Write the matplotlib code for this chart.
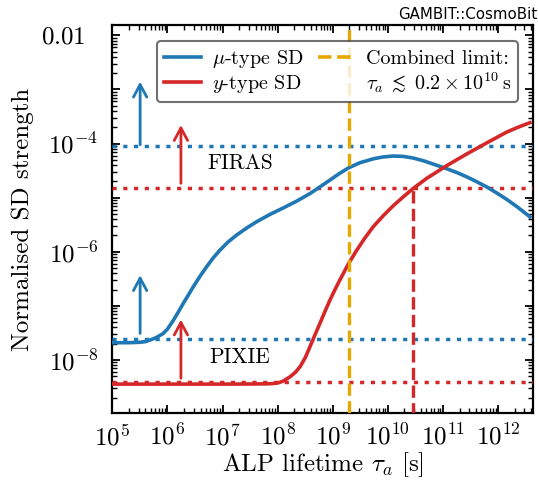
import numpy as np
import matplotlib
matplotlib.use("Agg")
import matplotlib.pyplot as plt
from matplotlib.ticker import FixedLocator, LogLocator, NullFormatter, FuncFormatter
from matplotlib.lines import Line2D
import matplotlib.transforms as mtransforms

plt.rcParams.update({
    "font.family": "serif",
    "font.serif": ["cmr10"],
    "mathtext.fontset": "cm",
    "axes.unicode_minus": False,
    "axes.formatter.use_mathtext": True,
})

# ---- data (log10 values) ----
mu_log_tau = [5.0, 5.3, 5.5, 5.6, 5.684, 5.8, 5.925, 6.0, 6.106, 6.2, 6.288, 6.38,
              6.469, 6.6, 6.712, 6.83, 6.954, 7.1, 7.256, 7.44, 7.619, 7.86, 8.102,
              8.35, 8.586, 8.77, 8.949, 9.12, 9.281, 9.493, 9.734, 9.9, 10.097,
              10.28, 10.46, 10.65, 10.823, 11.066, 11.25, 11.428, 11.6, 11.791,
              11.97, 12.154, 12.36, 12.577]
mu_log_sd = [-7.68, -7.68, -7.672, -7.66, -7.632, -7.585, -7.508, -7.43, -7.27,
             -7.11, -6.954, -6.80, -6.647, -6.44, -6.277, -6.115, -5.969, -5.82,
             -5.691, -5.56, -5.445, -5.31, -5.19, -5.062, -4.925, -4.80, -4.675,
             -4.555, -4.453, -4.355, -4.283, -4.25, -4.231, -4.238, -4.268, -4.32,
             -4.38, -4.465, -4.535, -4.614, -4.70, -4.80, -4.91, -5.03, -5.18, -5.355]

y_log_tau = [5.0, 6.0, 7.0, 7.5, 7.8, 7.9, 8.0, 8.1, 8.223, 8.32, 8.405, 8.5, 8.586,
             8.68, 8.767, 8.86, 8.949, 9.04, 9.13, 9.281, 9.433, 9.58, 9.734, 9.92,
             10.097, 10.28, 10.46, 10.703, 11.066, 11.428, 11.791, 12.154, 12.36,
             12.577]
y_log_sd = [-8.445, -8.445, -8.445, -8.443, -8.44, -8.436, -8.425, -8.39, -8.311,
            -8.23, -8.126, -7.96, -7.756, -7.53, -7.324, -7.10, -6.893, -6.70, -6.52,
            -6.23, -5.975, -5.75, -5.538, -5.33, -5.15, -4.985, -4.83, -4.645, -4.41,
            -4.195, -3.99, -3.79, -3.70, -3.615]

firas_limits = {"mu": 9e-5, "y": 1.5e-5}
pixie_limits = {"mu": 2.4e-8, "y": 3.9e-9}

combined_limit_tau = 2e9        # 0.2 x 10^10 s
y_firas_cross_tau = 2.9e10

# arrows: (y_start, y_end) at fixed tau
arrow_mu_x = 3.2e5
arrow_y_x = 1.76e6
firas_arrows = {"mu": (9.5e-5, 1.39e-3), "y": (1.84e-5, 2.2e-4)}
pixie_arrows = {"mu": (3.1e-8, 3.7e-7), "y": (4.6e-9, 5.6e-8)}

xtick_exps = [5, 6, 7, 8, 9, 10, 11, 12]
ytick_exps = [-9, -8, -7, -6, -5, -4, -3, -2]
ylabel_exps = [-8, -6, -4]

BLUE = "#1f77b4"
RED = "#d62728"
ORANGE = "#e6a700"

fig = plt.figure(figsize=(5.38, 4.84), dpi=100)
ax = fig.add_axes([0.2087, 0.1467, 0.7820, 0.8017])

ax.set_xscale("log")
ax.set_yscale("log")
ax.set_xlim(1e5, 4.3e12)
ax.set_ylim(1.05e-9, 1.55e-2)

mu_tau = 10 ** np.array(mu_log_tau)
mu_sd = 10 ** np.array(mu_log_sd)
yt_tau = 10 ** np.array(y_log_tau)
yt_sd = 10 ** np.array(y_log_sd)

ax.plot(mu_tau, mu_sd, color=BLUE, lw=2.6, solid_joinstyle="round", zorder=4)
ax.plot(yt_tau, yt_sd, color=RED, lw=2.6, solid_joinstyle="round", zorder=4)

dots = (0, (1.2, 1.9))
for lim, c in [(firas_limits["mu"], BLUE), (firas_limits["y"], RED),
               (pixie_limits["mu"], BLUE), (pixie_limits["y"], RED)]:
    ax.axhline(lim, color=c, lw=2.5, linestyle=dots, zorder=3)

ax.axvline(combined_limit_tau, color=ORANGE, lw=2.4, linestyle="--", zorder=5)
ax.plot([y_firas_cross_tau, y_firas_cross_tau], [1e-10, firas_limits["y"]],
        color=RED, lw=2.4, linestyle="--", zorder=5)

aprops = lambda c: dict(arrowstyle="->,head_length=0.45,head_width=0.24",
                        color=c, lw=2.0, mutation_scale=20, shrinkA=0, shrinkB=0)
for key, xx, c in [("mu", arrow_mu_x, BLUE), ("y", arrow_y_x, RED)]:
    y0, y1 = firas_arrows[key]
    ax.annotate("", xy=(xx, y1), xytext=(xx, y0), arrowprops=aprops(c), zorder=6)
    y0, y1 = pixie_arrows[key]
    ax.annotate("", xy=(xx, y1), xytext=(xx, y0), arrowprops=aprops(c), zorder=6)

ax.text(10 ** 7.32, 10 ** -4.36, "FIRAS", fontsize=15.5, ha="center", va="center")
ax.text(10 ** 7.31, 10 ** -7.95, "PIXIE", fontsize=15.5, ha="center", va="center")

# ticks
ax.xaxis.set_major_locator(FixedLocator([10.0 ** e for e in xtick_exps]))
ax.xaxis.set_major_formatter(FuncFormatter(lambda v, p: r"$10^{%d}$" % round(np.log10(v))))
ax.xaxis.set_minor_locator(LogLocator(base=10, subs=np.arange(2, 10), numticks=100))
ax.xaxis.set_minor_formatter(NullFormatter())

def yfmt(v, p):
    e = round(np.log10(v))
    if e not in ylabel_exps:
        return ""
    return r"$10^{%d}$" % e

ax.yaxis.set_major_locator(FixedLocator([10.0 ** e for e in ytick_exps]))
ax.yaxis.set_major_formatter(FuncFormatter(yfmt))
ax.yaxis.set_minor_locator(LogLocator(base=10, subs=np.arange(2, 10), numticks=100))
ax.yaxis.set_minor_formatter(NullFormatter())

ax.tick_params(which="both", direction="in", top=True, right=True)
ax.tick_params(which="major", length=6, width=1.3, labelsize=18)
ax.tick_params(axis="x", which="major", pad=8)
ax.tick_params(axis="y", which="major", pad=10)
ax.tick_params(which="minor", length=3.5, width=1.0)
for s in ax.spines.values():
    s.set_linewidth(1.6)

# the 0.01 label sits slightly left of the other y labels in the reference
trans = mtransforms.blended_transform_factory(ax.transAxes, ax.transData)
ax.text(-0.0625, 1e-2, r"$0.01$", fontsize=18, ha="right", va="center_baseline",
        transform=trans)

ax.set_xlabel(r"ALP lifetime $\tau_a$ [s]", fontsize=18, labelpad=0)
ax.set_ylabel("Normalised SD strength", fontsize=18, labelpad=10)

handles = [Line2D([], [], color=BLUE, lw=2.6),
           Line2D([], [], color=RED, lw=2.6),
           Line2D([], [], color=ORANGE, lw=2.6, linestyle="--"),
           Line2D([], [], color="none")]
labels = [r"$\mu$-type SD", r"$y$-type SD", "Combined limit:",
          r"$\tau_a \;\lesssim\; 0.2 \times 10^{10}\,\mathrm{s}$"]
leg = ax.legend(handles, labels, ncol=2, loc="upper right",
                bbox_to_anchor=(0.964, 0.959), borderaxespad=0, fontsize=14.5,
                columnspacing=0.75, handletextpad=0.55, handlelength=1.8,
                borderpad=0.35, labelspacing=0.15,
                framealpha=0.8, fancybox=True)
leg.get_frame().set_edgecolor("0.3")
leg.get_frame().set_linewidth(1.5)
leg.set_zorder(7)

fig.text(0.998, 0.9705, "GAMBIT::CosmoBit", fontsize=10.8, family="DejaVu Sans",
         ha="right", va="center")

fig.savefig("out.png", dpi=100)
